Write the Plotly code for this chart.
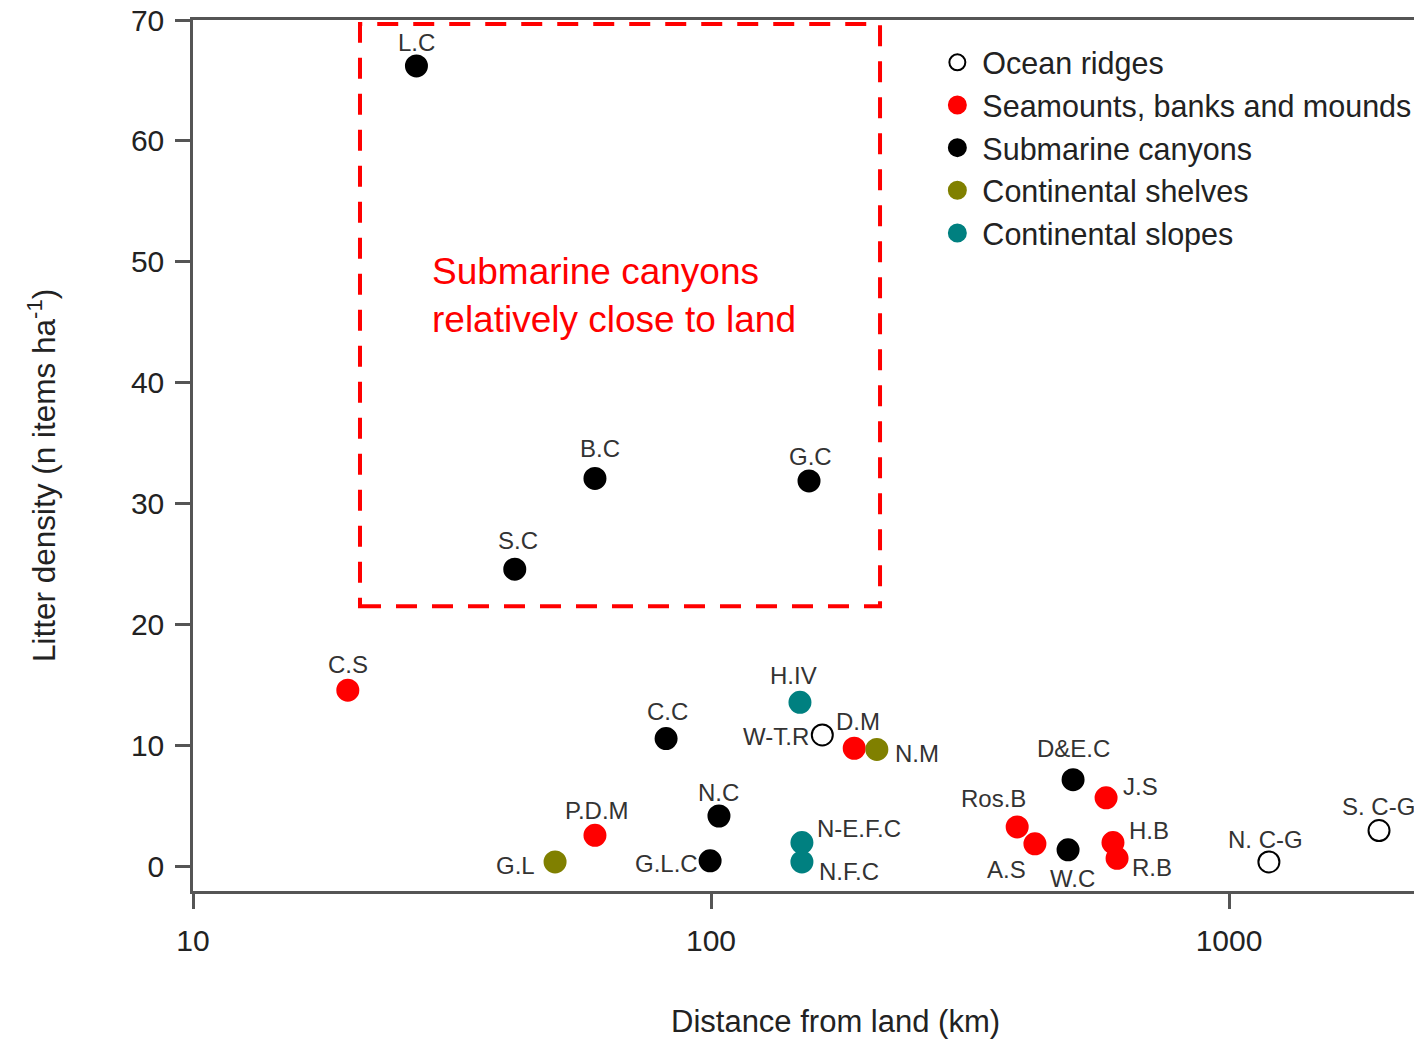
import math
import plotly.graph_objects as go

# Ocean ridges
ridge_names = ['W-T.R', 'N. C-G', 'S. C-G']
ridge_dist = [164, 1194, 1948]
ridge_dens = [10.9, 0.4, 3.0]

# Seamounts, banks and mounds
seamount_names = ['C.S', 'P.D.M', 'D.M', 'Ros.B', 'A.S', 'J.S', 'H.B', 'R.B']
seamount_dist = [19.9, 59.7, 189, 390, 422, 579, 597, 608]
seamount_dens = [14.6, 2.6, 9.8, 3.3, 1.9, 5.7, 2.0, 0.7]

# Submarine canyons
canyon_names = ['L.C', 'S.C', 'B.C', 'G.C', 'C.C', 'N.C', 'G.L.C', 'D&E.C', 'W.C']
canyon_dist = [27.0, 41.8, 59.7, 154.6, 81.9, 103.6, 99.6, 500, 489]
canyon_dens = [66.2, 24.6, 32.1, 31.9, 10.6, 4.2, 0.5, 7.2, 1.4]

# Continental shelves
shelf_names = ['G.L', 'N.M']
shelf_dist = [50.0, 209]
shelf_dens = [0.4, 9.7]

# Continental slopes
slope_names = ['H.IV', 'N-E.F.C', 'N.F.C']
slope_dist = [148.5, 149.8, 149.8]
slope_dens = [13.6, 2.0, 0.4]

x_ticks = [10, 100, 1000]
y_ticks = [0, 10, 20, 30, 40, 50, 60, 70]

# label placement: (anchor, pixel shift right, pixel shift down) from the marker
label_style = {
    'L.C': ('center', 0, -23), 'S.C': ('center', 3, -29), 'B.C': ('center', 5, -30),
    'G.C': ('center', 1, -24), 'C.S': ('center', 0, -26), 'C.C': ('center', 1, -27),
    'H.IV': ('center', -6, -27), 'W-T.R': ('right', -11, 2), 'D.M': ('center', 4, -27),
    'N.M': ('left', 16, 4), 'N.C': ('center', 0, -24), 'P.D.M': ('center', 2, -25),
    'G.L': ('right', -18, 4), 'G.L.C': ('right', -10, 3), 'N-E.F.C': ('left', 13, -14),
    'N.F.C': ('left', 15, 10), 'D&E.C': ('center', 0, -31), 'J.S': ('left', 15, -11),
    'Ros.B': ('center', -24, -28), 'A.S': ('center', -28, 26), 'W.C': ('center', 4, 29),
    'H.B': ('left', 14, -12), 'R.B': ('left', 13, 9), 'N. C-G': ('center', -3, -22),
    'S. C-G': ('center', -1, -24),
}

FONT = 'Liberation Sans, Arial, sans-serif'

groups = [
    ('Ocean ridges', ridge_names, ridge_dist, ridge_dens, 'white'),
    ('Seamounts, banks and mounds', seamount_names, seamount_dist, seamount_dens, '#ff0000'),
    ('Submarine canyons', canyon_names, canyon_dist, canyon_dens, '#000000'),
    ('Continental shelves', shelf_names, shelf_dist, shelf_dens, '#808000'),
    ('Continental slopes', slope_names, slope_dist, slope_dens, '#008080'),
]

fig = go.Figure()
for name, labels, xs, ys, color in groups:
    open_marker = color == 'white'
    # filled markers get an outline in their own colour so the legend symbols look bigger
    fig.add_trace(go.Scatter(
        x=xs, y=ys, name=name, mode='markers',
        marker=dict(size=21 if open_marker else 20, color=color,
                    line=dict(color='black' if open_marker else color,
                              width=2 if open_marker else 3)),
        hoverinfo='skip',
    ))
    for lab, xv, yv in zip(labels, xs, ys):
        anchor, dx, dy = label_style[lab]
        fig.add_annotation(x=math.log10(xv), y=yv, text=lab, showarrow=False,
                           xanchor=anchor, yanchor='middle', xshift=dx, yshift=-dy,
                           font=dict(family=FONT, size=24, color='#333333'))

# dashed box round the canyons close to land
fig.add_shape(type='rect', xref='paper', yref='paper',
              x0=0.135, x1=0.5554, y0=0.327, y1=0.9954,
              line=dict(color='#ff0000', width=4, dash='21px,15px'))

fig.add_annotation(xref='paper', yref='paper', x=0.1916, y=0.684,
                   xanchor='left', yanchor='middle', align='left', showarrow=False,
                   text='Submarine canyons<br>relatively close to land',
                   font=dict(family=FONT, size=37, color='#ff0000'))

# axis titles
fig.add_annotation(xref='paper', yref='paper', x=0.519, y=-0.1504,
                   xanchor='center', yanchor='middle', showarrow=False,
                   text='Distance from land (km)',
                   font=dict(family=FONT, size=31, color='#222222'))
fig.add_annotation(xref='paper', yref='paper', x=-0.122, y=0.4765,
                   xanchor='center', yanchor='middle', showarrow=False, textangle=-90,
                   text='Litter density (n items ha<sup>-1</sup>)',
                   font=dict(family=FONT, size=31.5, color='#222222'))

fig.update_layout(
    width=1422, height=1041,
    margin=dict(l=185, r=0, t=12, b=158),
    plot_bgcolor='white', paper_bgcolor='white',
    font=dict(family=FONT, size=30, color='#222222'),
    showlegend=True,
    legend=dict(x=0.5977, y=0.9816, xanchor='left', yanchor='top',
                font=dict(family=FONT, size=30.5, color='#222222'),
                bgcolor='rgba(0,0,0,0)', itemwidth=40),
    xaxis=dict(type='log', range=[1, 3.388], automargin=False,
               tickvals=x_ticks, ticktext=[str(v) for v in x_ticks],
               ticks='outside', ticklen=15, tickwidth=2.5, tickcolor='#555555',
               ticklabelstandoff=6, ticklabeloverflow='allow',
               showline=True, linecolor='#555555', linewidth=2.5, mirror=True,
               showgrid=False, zeroline=False),
    yaxis=dict(range=[-2, 70], tickvals=y_ticks, automargin=False,
               ticks='outside', ticklen=15, tickwidth=2.5, tickcolor='#555555',
               ticklabelstandoff=5, ticklabeloverflow='allow',
               showline=True, linecolor='#555555', linewidth=2.5,
               showgrid=False, zeroline=False),
)

fig.write_html('out.html')
